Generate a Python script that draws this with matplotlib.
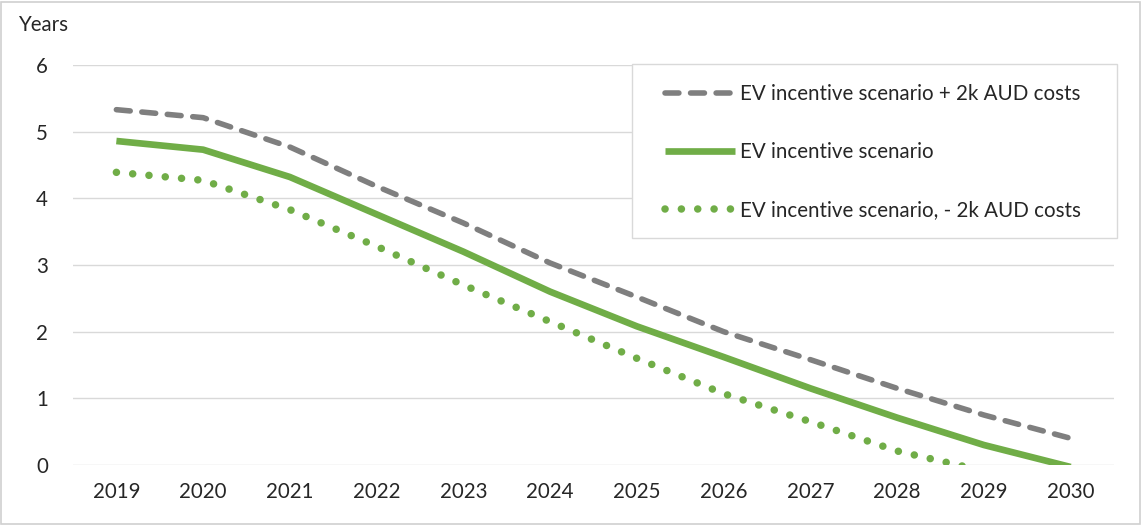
import matplotlib
matplotlib.use("Agg")
import matplotlib.pyplot as plt
from matplotlib.patches import Rectangle

plt.rcParams['font.family'] = ['Lato', 'DejaVu Sans']

years = [2019, 2020, 2021, 2022, 2023, 2024, 2025, 2026, 2027, 2028, 2029, 2030]
plus_2k = [5.33, 5.21, 4.77, 4.18, 3.63, 3.03, 2.52, 2.00, 1.58, 1.15, 0.75, 0.40]
incentive = [4.86, 4.73, 4.32, 3.76, 3.20, 2.60, 2.08, 1.62, 1.15, 0.71, 0.30, -0.03]
minus_2k = [4.39, 4.27, 3.83, 3.28, 2.70, 2.15, 1.60, 1.07, 0.65, 0.21, -0.09, -0.45]
labels = ["EV incentive scenario + 2k AUD costs",
          "EV incentive scenario",
          "EV incentive scenario, - 2k AUD costs"]

W, H = 1144, 525
fig = plt.figure(figsize=(W / 100, H / 100), dpi=100)
ax = fig.add_axes([73 / W, 1 - 465 / H, (1114 - 73) / W, (465 - 65) / H])

grey = "#7f7f7f"
green = "#70ad47"
text_col = "#262626"

ax.plot(years, plus_2k, color=grey, lw=4.0, dashes=(2.5, 2.1),
        dash_capstyle='round', label=labels[0])
ax.plot(years, incentive, color=green, lw=4.8, solid_capstyle='butt',
        solid_joinstyle='round', label=labels[1])
ax.plot(years, minus_2k, color=green, lw=5.4, dashes=(0.01, 2.17),
        dash_capstyle='round', label=labels[2])

ax.set_xlim(2018.5, 2030.5)
ax.set_ylim(0, 6)
ax.set_xticks(years)
ax.set_xticklabels([str(y) for y in years])
ax.set_yticks(range(0, 7))
ax.grid(axis='y', color='#d9d9d9', lw=1.0)
ax.set_axisbelow(True)
for s in ax.spines.values():
    s.set_visible(False)
ax.tick_params(axis='both', length=0, labelsize=14.8, colors=text_col)
ax.tick_params(axis='y', pad=18)
ax.tick_params(axis='x', pad=12)

fig.text(18 / W, 1 - 25 / H, "Years", fontsize=14.8, color=text_col,
         ha='left', va='center')

# legend box
fig.patches.append(Rectangle((632 / W, 1 - 238 / H), (1117 - 632) / W, (238 - 64) / H,
                             transform=fig.transFigure, fill=True, facecolor='white',
                             edgecolor='#d9d9d9', lw=1.0, zorder=5))
leg = fig.legend(loc='upper left', bbox_to_anchor=(665 / W, 1 - 84 / H),
                 frameon=False, fontsize=14.8, handlelength=3.4, handletextpad=0.25,
                 labelspacing=1.86, borderpad=0, borderaxespad=0)
leg.set_zorder(6)
for t in leg.get_texts():
    t.set_color(text_col)

# outer border
fig.patches.append(Rectangle((1 / W, 1 / H), (1140 - 1) / W, (523 - 1) / H,
                             transform=fig.transFigure, fill=False,
                             edgecolor='#d0d0d0', lw=1.2))

fig.savefig("out.png", dpi=100)
